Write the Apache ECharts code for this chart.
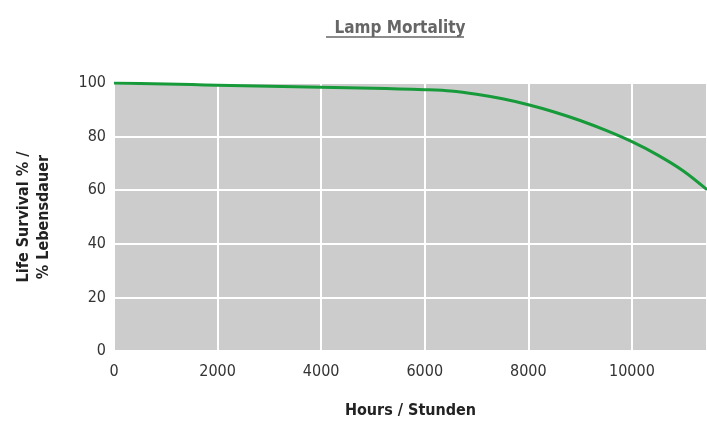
<!DOCTYPE html>
<html><head><meta charset="utf-8">
<script src="https://cdn.jsdelivr.net/npm/echarts@6/dist/echarts.min.js"></script>
<style>html,body{margin:0;padding:0;background:#fff}#c{width:707px;height:421px}</style>
</head><body><div id="c"></div>
<script>
const hours = [0, 500, 1000, 1500, 2000, 2500, 3000, 3500, 4000, 4500, 5000, 5500, 6000, 6500, 7000, 7500, 8000, 8500, 9000, 9500, 10000, 10500, 11000, 11450];
const survival = [100, 99.8, 99.6, 99.4, 99.2, 99.0, 98.8, 98.6, 98.4, 98.2, 98.0, 97.8, 97.5, 97.0, 95.8, 94.1, 91.9, 89.2, 86.0, 82.3, 78.1, 73.1, 67.1, 60.2];
const xTicks = [0, 2000, 4000, 6000, 8000, 10000];
const yTicks = [0, 20, 40, 60, 80, 100];
const titleText = 'Lamp Mortality';
const xName = 'Hours / Stunden';
const yName = 'Life Survival % /\n% Lebensdauer';

const FONT = '"DejaVu Sans Condensed", "Liberation Sans Narrow", sans-serif';
const chart = echarts.init(document.getElementById('c'), null, {renderer: 'canvas'});
chart.setOption({
  animation: false,
  backgroundColor: '#fff',
  title: {
    text: titleText, left: 395, top: 15, textAlign: 'center',
    textStyle: {fontFamily: FONT, fontSize: 17, fontWeight: 'bold', color: '#666'}
  },
  graphic: [{
    type: 'line', shape: {x1: 326, y1: 37, x2: 464, y2: 37},
    style: {stroke: '#666', lineWidth: 1.5}
  }],
  grid: {left: 114, right: 0, top: 83, bottom: 70, show: true, backgroundColor: '#cccccc', borderWidth: 0,
    outerBoundsMode: 'none', containLabel: false},
  xAxis: {
    type: 'value', min: 0, max: 11450, interval: 2000,
    name: xName, nameLocation: 'middle', nameGap: 52,
    nameTextStyle: {fontFamily: FONT, fontSize: 16, fontWeight: 'bold', color: '#222'},
    axisLine: {show: false}, axisTick: {show: false},
    axisLabel: {fontFamily: FONT, fontSize: 16, color: '#333', margin: 13,
      showMaxLabel: false,
      formatter: v => xTicks.includes(v) ? String(v) : ''},
    splitLine: {show: true, lineStyle: {color: '#fff', width: 2}}
  },
  yAxis: {
    type: 'value', min: 0, max: 100, interval: 20,
    name: yName, nameLocation: 'middle', nameGap: 60, nameRotate: 90,
    nameTextStyle: {fontFamily: FONT, fontSize: 16, fontWeight: 'bold', color: '#222', lineHeight: 20},
    axisLine: {show: false}, axisTick: {show: false},
    axisLabel: {fontFamily: FONT, fontSize: 16, color: '#333', margin: 8,
      formatter: v => yTicks.includes(v) ? String(v) : ''},
    splitLine: {show: true, lineStyle: {color: '#fff', width: 2}}
  },
  series: [{
    type: 'line', smooth: 0.3, symbol: 'none',
    data: hours.map((h, i) => [h, survival[i]]),
    lineStyle: {color: '#179a3a', width: 3}
  }]
});
</script></body></html>
